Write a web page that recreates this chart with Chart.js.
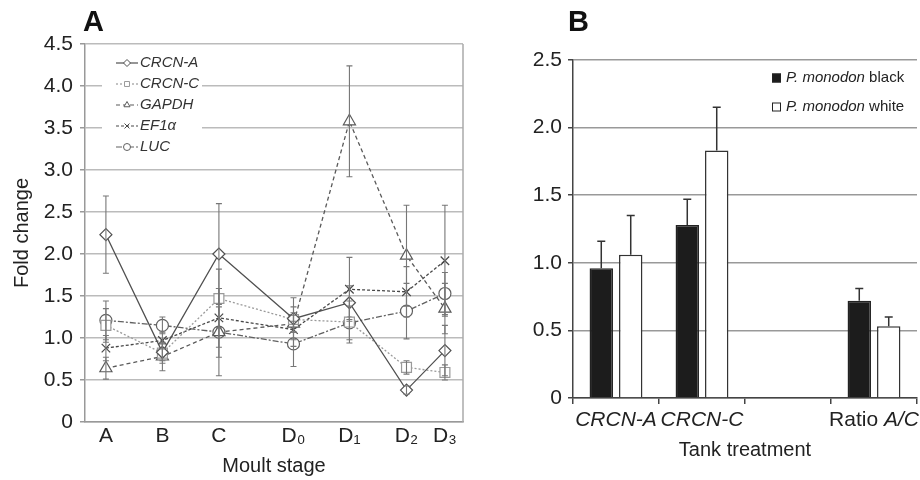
<!DOCTYPE html>
<html>
<head>
<meta charset="utf-8">
<script src="https://cdn.jsdelivr.net/npm/chart.js@4.4.0/dist/chart.umd.min.js"></script>
<style>
  body { margin: 0; background: #fff; }
  #wrap { position: relative; width: 920px; height: 480px; }
  .panel { position: absolute; top: 0; height: 480px; }
  #pa { left: 0; width: 480px; }
  #pb { left: 480px; width: 440px; }
</style>
</head>
<body>
<div id="wrap">
  <div class="panel" id="pa"><canvas id="chartA"></canvas></div>
  <div class="panel" id="pb"><canvas id="chartB"></canvas></div>
</div>
<script>
"use strict";
{
  const FONT = "'Liberation Sans', Arial, sans-serif";

  // panel A data
  const stageLabels = ["A", "B", "C", "D₀", "D₁", "D₂", "D₃"];
  const stagePos = [1, 2, 3, 4.32, 5.31, 6.32, 7];

  const crcnA = [2.23, 0.83, 2.0, 1.23, 1.42, 0.38, 0.85];
  const crcnAErr = [0.46, 0.1, 0.6, 0.25, 0.2, 0.05, 0.3];
  const crcnC = [1.15, 0.82, 1.47, 1.22, 1.19, 0.65, 0.59];
  const crcnCErr = [0.2, 0.12, 0.35, 0.15, 0.25, 0.08, 0.09];
  const gapdh = [0.64, 0.78, 1.07, 1.17, 3.58, 1.98, 1.35];
  const gapdhErr = [0.13, 0.17, 0.52, 0.1, 0.66, 0.6, 0.3];
  const ef1a = [0.88, 0.97, 1.24, 1.1, 1.58, 1.55, 1.92];
  const ef1aErr = [0.15, 0.1, 0.35, 0.2, 0.38, 0.3, 0.66];
  const luc = [1.21, 1.15, 1.07, 0.93, 1.18, 1.32, 1.53];
  const lucErr = [0.23, 0.1, 0.3, 0.27, 0.2, 0.33, 0.25];

  // panel B data
  const treatments = ["CRCN-A", "CRCN-C", "", "Ratio A/C"];
  const blackMean = [0.96, 1.28, null, 0.72];
  const blackErr = [0.2, 0.19, null, 0.09];
  const whiteMean = [1.06, 1.83, null, 0.53];
  const whiteErr = [0.29, 0.32, null, 0.07];

  const seriesA = [
    { label: "CRCN-A", values: crcnA, errors: crcnAErr, color: "#505050", dash: [], point: "rectRot", radius: 6 },
    { label: "CRCN-C", values: crcnC, errors: crcnCErr, color: "#9a9a9a", dash: [2, 2], point: "rect", radius: 7 },
    { label: "GAPDH", values: gapdh, errors: gapdhErr, color: "#5a5a5a", dash: [4, 3], point: "triangle", radius: 7 },
    { label: "EF1α", values: ef1a, errors: ef1aErr, color: "#484848", dash: [3, 2], point: "crossRot", radius: 6 },
    { label: "LUC", values: luc, errors: lucErr, color: "#606060", dash: [6, 2, 2, 2], point: "circle", radius: 6 },
  ];

  function panelLabel(text, x) {
    return {
      id: "panelLabel" + text,
      afterDraw(chart) {
        const ctx = chart.ctx;
        ctx.save();
        ctx.font = "bold 29px " + FONT;
        ctx.fillStyle = "#111";
        ctx.textBaseline = "alphabetic";
        ctx.fillText(text, x, 31);
        ctx.restore();
      },
    };
  }

  // 枠線（右側）
  const frameA = {
    id: "frameA",
    beforeDatasetsDraw(chart) {
      const { ctx, chartArea } = chart;
      ctx.save();
      ctx.strokeStyle = "#aaa";
      ctx.lineWidth = 1.5;
      ctx.beginPath();
      ctx.moveTo(chartArea.right, chartArea.top);
      ctx.lineTo(chartArea.right, chartArea.bottom);
      ctx.stroke();
      ctx.restore();
    },
  };

  const legendA = {
    id: "legendA",
    beforeDatasetsDraw(chart) {
      const ctx = chart.ctx;
      ctx.save();
      ctx.fillStyle = "#fff";
      ctx.fillRect(102, 50, 100, 108);
      chart.data.datasets.forEach((ds, i) => {
        const yy = 63 + i * 21;
        ctx.strokeStyle = ds.borderColor;
        ctx.lineWidth = 1.2;
        ctx.setLineDash(ds.borderDash);
        ctx.beginPath();
        ctx.moveTo(116, yy);
        ctx.lineTo(138, yy);
        ctx.stroke();
        ctx.setLineDash([]);
        ctx.fillStyle = "#fff";
        ctx.strokeStyle = ds.pointBorderColor;
        ctx.lineWidth = 1;
        Chart.helpers.drawPoint(ctx, { pointStyle: ds.pointStyle, radius: 3.5, borderWidth: 1, rotation: 0 }, 127, yy);
        ctx.fillStyle = "#333";
        ctx.font = "italic 15px " + FONT;
        ctx.textBaseline = "middle";
        ctx.fillText(ds.label, 140, yy);
      });
      ctx.restore();
    },
  };

  const errorBarsA = {
    id: "errorBarsA",
    afterDatasetsDraw(chart) {
      const ctx = chart.ctx;
      const y = chart.scales.y;
      ctx.save();
      ctx.strokeStyle = "#777";
      ctx.lineWidth = 1.1;
      chart.data.datasets.forEach((ds, i) => {
        chart.getDatasetMeta(i).data.forEach((pt, j) => {
          const v = ds.data[j].y;
          const e = ds.errors[j];
          const top = y.getPixelForValue(v + e);
          const bot = y.getPixelForValue(v - e);
          ctx.beginPath();
          ctx.moveTo(pt.x, top);
          ctx.lineTo(pt.x, bot);
          ctx.moveTo(pt.x - 3, top);
          ctx.lineTo(pt.x + 3, top);
          ctx.moveTo(pt.x - 3, bot);
          ctx.lineTo(pt.x + 3, bot);
          ctx.stroke();
        });
      });
      ctx.restore();
    },
  };

  new Chart(document.getElementById("chartA"), {
    type: "line",
    data: {
      datasets: seriesA.map((s) => ({
        label: s.label,
        data: stagePos.map((x, i) => ({ x: x, y: s.values[i] })),
        errors: s.errors,
        borderColor: s.color,
        borderWidth: 1.3,
        borderDash: s.dash,
        pointStyle: s.point,
        pointRadius: s.radius,
        pointBorderColor: s.color,
        pointBackgroundColor: "#fff",
        pointBorderWidth: 1.2,
        tension: 0,
        fill: false,
      })),
    },
    options: {
      responsive: true,
      maintainAspectRatio: false,
      animation: false,
      layout: { padding: { top: 44, right: 17, left: 0, bottom: 0 } },
      plugins: {
        legend: { display: false },
        tooltip: { enabled: false },
      },
      scales: {
        x: {
          type: "linear",
          min: 0.63,
          max: 7.32,
          afterBuildTicks: (s) => {
            s.ticks = stagePos.map((v) => ({ value: v }));
          },
          afterFit: (s) => {
            s.height = 58;
          },
          grid: { display: false, drawTicks: false },
          border: { display: true, color: "#999", width: 1.5 },
          ticks: {
            autoSkip: false,
            maxRotation: 0,
            padding: 2,
            color: "#222",
            font: { family: FONT, size: 21 },
            callback: (v, i) => stageLabels[i],
          },
          title: {
            display: true,
            text: "Moult stage",
            color: "#222",
            font: { family: FONT, size: 20 },
            padding: { top: 0, bottom: 2 },
          },
        },
        y: {
          min: 0,
          max: 4.5,
          afterFit: (s) => {
            s.width = 85;
          },
          ticks: {
            stepSize: 0.5,
            padding: 7,
            color: "#222",
            font: { family: FONT, size: 21 },
            callback: (v) => (v === 0 ? "0" : v.toFixed(1)),
          },
          grid: { color: "#bbb", lineWidth: 1.5, tickLength: 5, tickColor: "#999" },
          border: { color: "#999", width: 1.5 },
          title: {
            display: true,
            text: "Fold change",
            color: "#222",
            font: { family: FONT, size: 20 },
            padding: { top: 10, bottom: 0 },
          },
        },
      },
    },
    plugins: [frameA, legendA, errorBarsA, panelLabel("A", 83)],
  });

  // 棒グラフ (B)
  const errorBarsB = {
    id: "errorBarsB",
    afterDatasetsDraw(chart) {
      const ctx = chart.ctx;
      const y = chart.scales.y;
      ctx.save();
      ctx.strokeStyle = "#333";
      ctx.lineWidth = 1.5;
      chart.data.datasets.forEach((ds, i) => {
        chart.getDatasetMeta(i).data.forEach((bar, j) => {
          const v = ds.data[j];
          if (v === null) return;
          const top = y.getPixelForValue(v + ds.errors[j]);
          ctx.beginPath();
          ctx.moveTo(bar.x, bar.y);
          ctx.lineTo(bar.x, top);
          ctx.moveTo(bar.x - 4, top);
          ctx.lineTo(bar.x + 4, top);
          ctx.stroke();
        });
      });
      ctx.restore();
    },
  };

  // 斜体と立体を混ぜて描く
  function drawMixed(ctx, parts, x, y, size, align) {
    const widths = parts.map((p) => {
      ctx.font = (p[1] ? "italic " : "") + size + "px " + FONT;
      return ctx.measureText(p[0]).width;
    });
    const total = widths.reduce((a, b) => a + b, 0);
    let cx = align === "center" ? x - total / 2 : x;
    parts.forEach((p, k) => {
      ctx.font = (p[1] ? "italic " : "") + size + "px " + FONT;
      ctx.fillText(p[0], cx, y);
      cx += widths[k];
    });
  }

  const xLabelsB = {
    id: "xLabelsB",
    afterDraw(chart) {
      const ctx = chart.ctx;
      const xs = chart.scales.x;
      ctx.save();
      ctx.fillStyle = "#222";
      ctx.textBaseline = "middle";
      ctx.textAlign = "left";
      treatments.forEach((t, i) => {
        if (!t) return;
        const parts = t.startsWith("Ratio ")
          ? [["Ratio ", false], [t.slice(6), true]]
          : [[t, true]];
        drawMixed(ctx, parts, xs.getPixelForTick(i), chart.chartArea.bottom + 22, 21, "center");
      });
      ctx.restore();
    },
  };

  const legendB = {
    id: "legendB",
    afterDraw(chart) {
      const ctx = chart.ctx;
      ctx.save();
      chart.data.datasets.forEach((ds, i) => {
        const yy = 78 + i * 29;
        ctx.fillStyle = ds.backgroundColor;
        ctx.fillRect(292, yy - 4.5, 9, 9);
        ctx.strokeStyle = "#222";
        ctx.lineWidth = 1;
        ctx.strokeRect(292.5, yy - 4, 8, 8);
        const cut = ds.label.lastIndexOf(" ");
        ctx.fillStyle = "#222";
        ctx.textBaseline = "middle";
        ctx.textAlign = "left";
        drawMixed(ctx, [[ds.label.slice(0, cut), true], [ds.label.slice(cut), false]], 306, yy, 15, "left");
      });
      ctx.restore();
    },
  };

  new Chart(document.getElementById("chartB"), {
    type: "bar",
    data: {
      labels: treatments,
      datasets: [
        {
          label: "P. monodon black",
          data: blackMean,
          errors: blackErr,
          backgroundColor: "#1c1c1c",
          borderColor: "#222",
          borderWidth: 1.5,
          categoryPercentage: 0.685,
          barPercentage: 0.795,
        },
        {
          label: "P. monodon white",
          data: whiteMean,
          errors: whiteErr,
          backgroundColor: "#fff",
          borderColor: "#333",
          borderWidth: 1.5,
          categoryPercentage: 0.685,
          barPercentage: 0.795,
        },
      ],
    },
    options: {
      responsive: true,
      maintainAspectRatio: false,
      animation: false,
      layout: { padding: { top: 60, right: 3, left: 0, bottom: 0 } },
      plugins: {
        legend: { display: false },
        tooltip: { enabled: false },
      },
      scales: {
        x: {
          afterFit: (s) => {
            s.height = 82;
          },
          grid: { offset: true, drawOnChartArea: false, drawTicks: true, tickLength: 6, color: "#444", lineWidth: 1.5 },
          border: { color: "#444", width: 1.5 },
          ticks: { display: false },
          title: {
            display: true,
            text: "Tank treatment",
            color: "#222",
            font: { family: FONT, size: 20 },
            padding: { top: 0, bottom: 18 },
          },
        },
        y: {
          min: 0,
          max: 2.5,
          afterFit: (s) => {
            s.width = 93;
          },
          ticks: {
            stepSize: 0.5,
            padding: 6,
            color: "#222",
            font: { family: FONT, size: 21 },
            callback: (v) => (v === 0 ? "0" : v.toFixed(1)),
          },
          grid: { color: "#999", lineWidth: 1.5, tickLength: 5, tickColor: "#444" },
          border: { color: "#444", width: 1.5 },
        },
      },
    },
    plugins: [errorBarsB, xLabelsB, legendB, panelLabel("B", 88)],
  });
}
</script>
</body>
</html>
